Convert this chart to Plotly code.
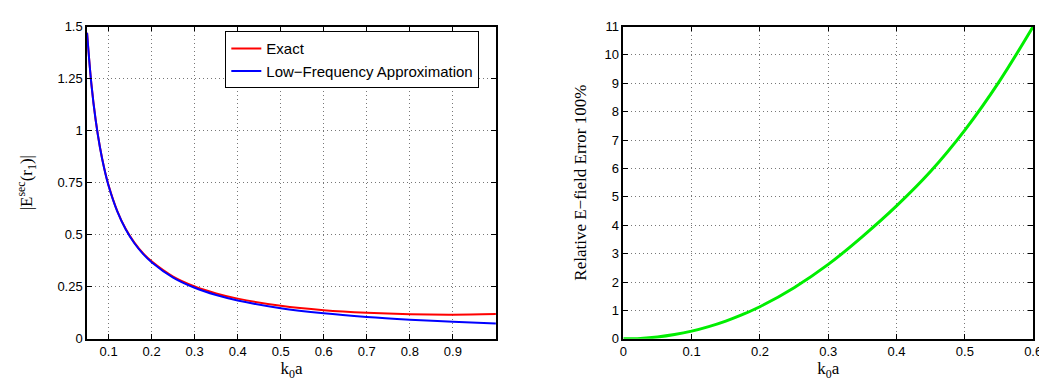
import plotly.graph_objects as go

# Left panel data
k_left = [0.05, 0.06, 0.07, 0.08, 0.09, 0.10, 0.12, 0.14, 0.16, 0.18, 0.20, 0.25,
          0.30, 0.35, 0.40, 0.50, 0.60, 0.70, 0.80, 0.90, 1.00]
exact = [1.47, 1.226, 1.051, 0.920, 0.818, 0.737, 0.615, 0.527, 0.462, 0.411, 0.372, 0.299,
         0.2515, 0.218, 0.193, 0.1587, 0.1376, 0.125, 0.118, 0.116, 0.119]
lowfreq = [1.47, 1.225, 1.050, 0.919, 0.817, 0.735, 0.613, 0.525, 0.459, 0.408, 0.368, 0.294,
           0.245, 0.210, 0.184, 0.147, 0.1225, 0.105, 0.092, 0.0817, 0.0735]

# Right panel data
k_right = [0.0, 0.025, 0.05, 0.075, 0.10, 0.125, 0.15, 0.175, 0.20, 0.25, 0.30, 0.35,
           0.40, 0.45, 0.50, 0.55, 0.60]
rel_err = [0.0, 0.015, 0.064, 0.15, 0.27, 0.43, 0.625, 0.86, 1.13, 1.80, 2.62, 3.60,
           4.68, 5.90, 7.35, 9.05, 11.0]

left_xticks = [0.1, 0.2, 0.3, 0.4, 0.5, 0.6, 0.7, 0.8, 0.9]
left_yticks = [0, 0.25, 0.5, 0.75, 1, 1.25, 1.5]
left_ytext = ["0", "0.25", "0.5", "0.75", "1", "1.25", "1.5"]
right_xticks = [0, 0.1, 0.2, 0.3, 0.4, 0.5, 0.6]
right_yticks = list(range(0, 12))

fig = go.Figure()
fig.add_trace(go.Scatter(x=k_left, y=exact, mode="lines", name="Exact",
                         line=dict(color="#ff0000", width=2, shape="spline"),
                         xaxis="x", yaxis="y"))
fig.add_trace(go.Scatter(x=k_left, y=lowfreq, mode="lines", name="Low\u2212Frequency Approximation",
                         line=dict(color="#0000ff", width=2, shape="spline"),
                         xaxis="x", yaxis="y"))
fig.add_trace(go.Scatter(x=k_right, y=rel_err, mode="lines", showlegend=False,
                         line=dict(color="#00ee00", width=3, shape="spline"),
                         xaxis="x2", yaxis="y2"))

tickfont = dict(family="Liberation Sans, Arial", size=13, color="black")
titlefont = dict(family="Liberation Serif, Times New Roman", size=17, color="black")
common = dict(showline=True, linecolor="black", linewidth=1.5, mirror="ticks",
              ticks="inside", ticklen=5, tickcolor="black", tickwidth=1,
              showgrid=True, gridcolor="#777777", griddash="1px,3px", gridwidth=1,
              zeroline=False, tickfont=tickfont)

y0, y1 = 46 / 383, 371 / 383
fig.update_layout(
    width=1047, height=383,
    margin=dict(l=0, r=0, t=0, b=0),
    paper_bgcolor="white", plot_bgcolor="white",
    xaxis=dict(domain=[76 / 1047, 490 / 1047], range=[0.05, 1.0],
               tickvals=left_xticks, ticktext=[str(v) for v in left_xticks],
               title=dict(text="k<sub>0</sub>a", font=titlefont, standoff=4),
               anchor="y", **common),
    yaxis=dict(domain=[y0, y1], range=[0, 1.5],
               tickvals=left_yticks, ticktext=left_ytext,
               title=dict(text="|E<sup>sec</sup>(r<sub>1</sub>)|", font=titlefont, standoff=20),
               anchor="x", **common),
    xaxis2=dict(domain=[619 / 1047, 1034 / 1047], range=[0, 0.6],
                tickvals=right_xticks, ticktext=[str(v) for v in right_xticks],
                title=dict(text="k<sub>0</sub>a", font=titlefont, standoff=4),
                anchor="y2", **common),
    yaxis2=dict(domain=[y0, y1], range=[0, 11],
                tickvals=right_yticks, ticktext=[str(v) for v in right_yticks],
                title=dict(text="Relative E\u2212field Error 100%", font=titlefont, standoff=14),
                anchor="x2", **common),
    legend=dict(x=216 / 1047, y=1 - 17 / 383, xanchor="left", yanchor="top",
                bgcolor="white", bordercolor="black", borderwidth=1,
                font=dict(family="Liberation Sans, Arial", size=15, color="black"),
                tracegroupgap=0, itemwidth=30),
)

fig.write_html("out.html")
